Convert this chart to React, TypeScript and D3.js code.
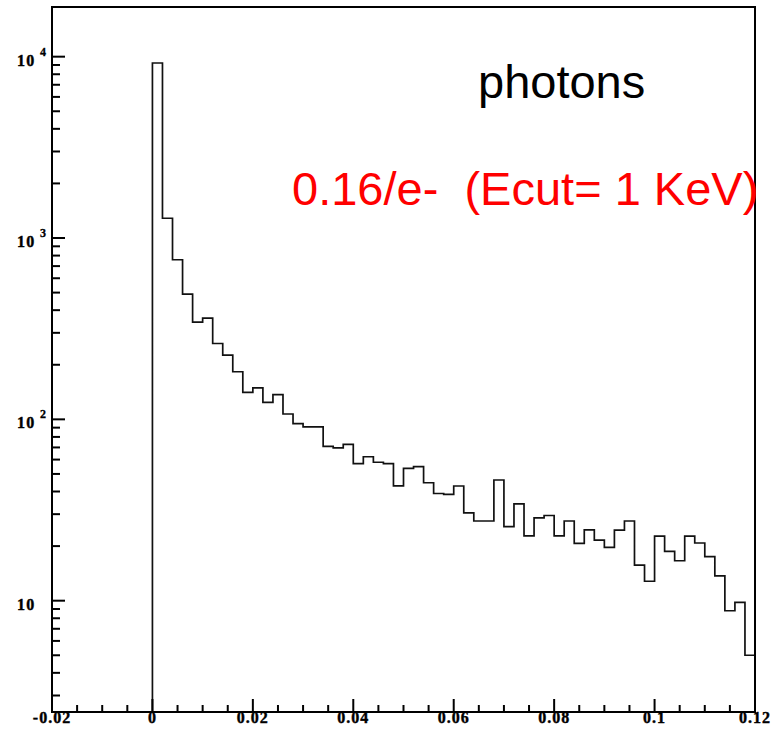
import React from "react";
import * as d3 from "d3";

const counts: number[] = [
  9230, 1285, 759, 491, 344, 362, 262, 226, 183, 141,
  149, 124, 137, 107, 94.6, 91, 91, 71, 69.7, 72.8,
  57, 62.2, 58, 57, 43, 53.7, 54.8, 44.7, 39, 38.6,
  42.9, 30.5, 27.5, 27.5, 46.3, 25.6, 34.2, 22.8, 28.6, 29.5,
  22.8, 27.5, 20.7, 24.6, 21.6, 19.7, 24.5, 27.5, 15.7, 12.8,
  22.7, 18.7, 16.6, 22.7, 20.8, 17.5, 13.7, 8.8, 9.8, 5,
];
const binStart = 0;
const binWidth = 0.002;
const xDomain: [number, number] = [-0.02, 0.12];
const yDomain: [number, number] = [2.433, 18790];
const xMajorTicks: number[] = [-0.02, 0, 0.02, 0.04, 0.06, 0.08, 0.1, 0.12];
const xTickLabels: string[] = ["-0.02", "0", "0.02", "0.04", "0.06", "0.08", "0.1", "0.12"];
const yDecades: number[] = [10, 100, 1000, 10000];
const yDecadeExp: string[] = ["", "2", "3", "4"];
const title = "photons";
const subtitle = "0.16/e-  (Ecut= 1 KeV)";

export default function App() {
  const W = 784, H = 735;
  const L = 52, R = 755, T = 7, B = 712;
  const x = d3.scaleLinear().domain(xDomain).range([L, R]);
  const y = d3.scaleLog().domain(yDomain).range([B, T]);

  const pts: [number, number][] = [[x(binStart), B]];
  counts.forEach((c, i) => {
    const x0 = binStart + i * binWidth;
    pts.push([x(x0), y(c)]);
    pts.push([x(x0 + binWidth), y(c)]);
  });
  pts.push([x(binStart + counts.length * binWidth), B]);
  const path = d3.line()(pts) as string;

  const xMinor: number[] = [];
  for (let i = 0; i <= 28; i++) {
    const v = xDomain[0] + i * 0.005;
    if (i % 4 !== 0) xMinor.push(v);
  }
  const yMinor: number[] = [];
  for (let e = 0; e <= 4; e++) {
    for (let m = 2; m <= 9; m++) {
      const v = m * Math.pow(10, e);
      if (v > yDomain[0] && v < yDomain[1]) yMinor.push(v);
    }
  }

  const labelFont = { fontFamily: "'Liberation Serif', serif", fontWeight: 700 as const };

  return (
    <svg width={W} height={H} style={{ position: "absolute", left: 0, top: 0, background: "#fff" }}>
      <rect x={0} y={0} width={W} height={H} fill="#fff" />
      <path d={path} fill="none" stroke="#111" strokeWidth={1.7} />
      <rect x={L} y={T} width={R - L} height={B - T} fill="none" stroke="#000" strokeWidth={2} />
      {xMajorTicks.map((v, i) => (
        <g key={"xm" + i}>
          <line x1={x(v)} x2={x(v)} y1={B} y2={B - 13} stroke="#000" strokeWidth={2} />
          <text x={x(v)} y={723} textAnchor="middle" fontSize={16} letterSpacing={1} stroke="#000" strokeWidth={0.4} {...labelFont}>
            {xTickLabels[i]}
          </text>
        </g>
      ))}
      {xMinor.map((v, i) => (
        <line key={"xn" + i} x1={x(v)} x2={x(v)} y1={B} y2={B - 7} stroke="#000" strokeWidth={2} />
      ))}
      {yDecades.map((v, i) => (
        <g key={"ym" + i}>
          <line x1={L} x2={L + 13} y1={y(v)} y2={y(v)} stroke="#000" strokeWidth={2} />
          <text x={17} y={y(v) + 9} fontSize={16} letterSpacing={1.2} stroke="#000" strokeWidth={0.4} {...labelFont}>
            10
          </text>
          {yDecadeExp[i] && (
            <text x={40} y={y(v) - 1} fontSize={12} stroke="#000" strokeWidth={0.3} {...labelFont}>
              {yDecadeExp[i]}
            </text>
          )}
        </g>
      ))}
      {yMinor.map((v, i) => (
        <line key={"yn" + i} x1={L} x2={L + 8} y1={y(v)} y2={y(v)} stroke="#000" strokeWidth={2} />
      ))}
      <text x={478} y={98} fontSize={47} fontFamily="'Liberation Sans', Arial, sans-serif" fill="#000">
        {title}
      </text>
      <text x={292} y={205} fontSize={47} fontFamily="'Liberation Sans', Arial, sans-serif" fill="#ff0000" style={{ whiteSpace: "pre" }}>
        {subtitle}
      </text>
    </svg>
  );
}
